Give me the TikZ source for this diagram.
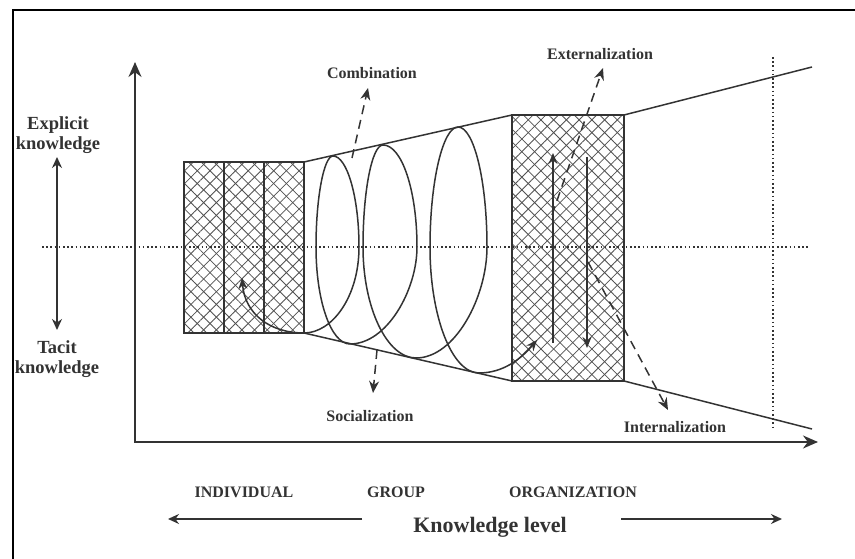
\documentclass[tikz,border=0pt]{standalone}
\usepackage{fontspec}
\setmainfont{Liberation Serif}
\usetikzlibrary{arrows.meta,patterns.meta}
\definecolor{ink}{HTML}{333333}
\begin{document}
\begin{tikzpicture}[x=1pt,y=1pt,
  frame/.style={draw=black,line width=2.5pt},
  axisline/.style={draw=ink,line width=2pt},
  boxline/.style={draw=ink,line width=1.5pt},
  thin/.style={draw=ink,line width=1.5pt},
  lbl/.style={font=\bfseries\fontsize{16}{17}\selectfont,text=ink,inner sep=0pt},
  sidel/.style={font=\bfseries\fontsize{18.5}{20}\selectfont,text=ink,inner sep=0pt},
  bigl/.style={font=\bfseries\fontsize{22}{24}\selectfont,text=ink,inner sep=0pt},
  tipS/.style={-{Stealth[length=11pt,width=9pt]}},
  dasharrow/.style={draw=ink,line width=1.5pt,dash pattern=on 9pt off 6pt,-{Stealth[length=12pt,width=10pt]}},
  dotline/.style={draw=ink,line width=1.6pt,dash pattern=on 1.6pt off 2.6pt},
  hatchA/.style={pattern={Lines[angle=45,distance=9pt,line width=0.8pt]},pattern color=ink!85},
  hatchB/.style={pattern={Lines[angle=-45,distance=9pt,line width=0.8pt]},pattern color=ink!85},
]
\useasboundingbox (0,0) rectangle (855,559);
\fill[white] (0,0) rectangle (855,559);
% frame
\draw[frame] (856,549) -- (13,549) -- (13,-1);

% axes
\coordinate (O) at (135,117);
\coordinate (Ytop) at (135,497);
\coordinate (Xend) at (818,117);
\draw[axisline,{Stealth[length=15pt,width=13pt]}-{Stealth[length=15pt,width=13pt]}] (Ytop) -- (O) -- (Xend);

% left box (three columns)
\coordinate (LBa) at (184,226);
\coordinate (LBb) at (304,397);
\fill[hatchA] (LBa) rectangle (LBb);
\fill[hatchB] (LBa) rectangle (LBb);
\draw[boxline] (LBa) rectangle (LBb);
\draw[boxline] (224,226) -- (224,397);
\draw[boxline] (264,226) -- (264,397);

% right box
\coordinate (RBa) at (512,178);
\coordinate (RBb) at (624,444);
\fill[hatchA] (RBa) rectangle (RBb);
\fill[hatchB] (RBa) rectangle (RBb);
\draw[boxline] (RBa) rectangle (RBb);

% funnel
\coordinate (U1) at (304,397); \coordinate (U2) at (512,444);
\coordinate (D1) at (304,226); \coordinate (D2) at (512,178);
\coordinate (U3) at (624,444); \coordinate (U4) at (812,492);
\coordinate (D3) at (624,178); \coordinate (D4) at (812,130);
\draw[thin] (U1) -- (U2);
\draw[thin] (D1) -- (D2);
\draw[thin] (U3) -- (U4);
\draw[thin] (D3) -- (D4);

% dotted guide lines
\coordinate (HL) at (42,312); \coordinate (HR) at (808,312);
\coordinate (VT) at (773,502); \coordinate (VB) at (773,131);
\draw[dotline] (HL) -- (HR);
\draw[dotline] (VT) -- (VB);

% spiral
\coordinate (S1) at (537,219);
\draw[thin,tipS] (D1) .. controls (332,226) and (359,262) .. (359,312)
  .. controls (359,362) and (347,403) .. (333,403)
  .. controls (324,403) and (316,362) .. (316,312)
  .. controls (316,258) and (331,215) .. (350,215)
  .. controls (387,215) and (417,269) .. (417,312)
  .. controls (417,368) and (402,414) .. (383,414)
  .. controls (372,414) and (363,368) .. (363,312)
  .. controls (363,251) and (387,201) .. (416,201)
  .. controls (455,201) and (487,262) .. (487,312)
  .. controls (487,378) and (474,432) .. (458,432)
  .. controls (443,432) and (430,378) .. (430,312)
  .. controls (430,242) and (452,186) .. (479,186)
  .. controls (503,186) and (521,200) .. (S1);
\coordinate (S0) at (242,281);
\draw[thin,tipS] (D1) .. controls (270,226) and (245,245) .. (S0);

% vertical arrows in organization box
\draw[thin,tipS] (553,216) -- (553,406);
\draw[thin,tipS] (587,402) -- (587,211);

% dashed mode arrows
\node[lbl,anchor=base] (comb) at (372,480) {Combination};
\node[lbl,anchor=base] (soc) at (370,137) {Socialization};
\node[lbl,anchor=base] (ext) at (600,499) {Externalization};
\node[lbl,anchor=base] (int) at (675,126) {Internalization};
\draw[dasharrow] (352,401) -- (368,471);
\draw[dasharrow] (377,209) -- (373,166);
\draw[dasharrow] (552,344) -- (603,491);
\draw[dasharrow] (588,297) -- (668,149);

% vertical knowledge dimension
\node[sidel,align=center] (expl) at (58,424) {Explicit\\knowledge};
\node[sidel,align=center] (tac) at (57,200) {Tacit\\knowledge};
\draw[axisline,line width=1.6pt,{Stealth[length=11pt,width=10pt]}-{Stealth[length=11pt,width=10pt]}] (57,402) -- (57,229);

% levels
\node[lbl,anchor=base] (ind) at (244,61) {INDIVIDUAL};
\node[lbl,anchor=base] (grp) at (396,61) {GROUP};
\node[lbl,anchor=base] (org) at (573,61) {ORGANIZATION};

\node[bigl,anchor=base] (kl) at (490,26) {Knowledge level};
\draw[axisline,line width=1.6pt,-{Stealth[length=11pt,width=10pt]}] (362,40) -- (168,40);
\draw[axisline,line width=1.6pt,-{Stealth[length=11pt,width=10pt]}] (621,40) -- (782,40);
\end{tikzpicture}
\end{document}
